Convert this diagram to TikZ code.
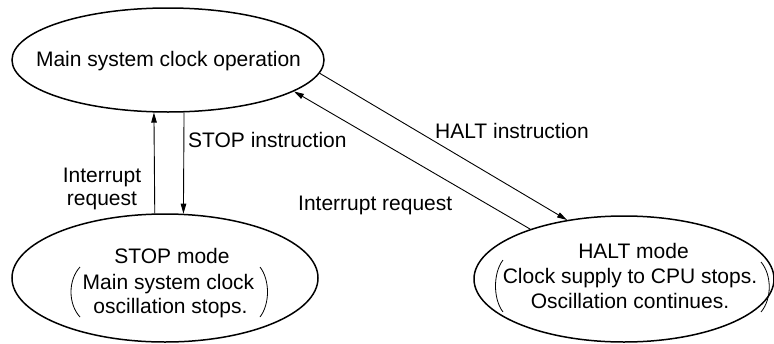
\documentclass[tikz,border=0pt]{standalone}
\usepackage{fontspec}
\setmainfont{Liberation Sans}
\usetikzlibrary{shapes.geometric,arrows.meta}
\begin{document}
\begin{tikzpicture}[x=1pt,y=-1pt,
  statebox/.style={draw,ellipse,line width=1.5pt,inner sep=0pt},
  txt/.style={font=\fontsize{21}{25}\selectfont,inner sep=0pt,anchor=base},
  lbl/.style={font=\fontsize{21}{25}\selectfont,inner sep=0pt,anchor=base west},
  arr/.style={line width=0.9pt,-{Triangle[length=10pt,width=5.5pt]}},
  paren/.style={line width=0.8pt}]
\useasboundingbox (0,0) rectangle (774,343);
% states
\node[statebox,minimum width=312pt,minimum height=104pt] (top) at (168,60) {};
\node[statebox,minimum width=306pt,minimum height=128pt] (stop) at (165,278) {};
\node[statebox,minimum width=300pt,minimum height=126pt] (halt) at (624,279) {};
% state texts
\node[txt] (topT) at (168.5,66) {Main system clock operation};
\node[txt] (stopA) at (172,263) {STOP mode};
\node[txt] (stopB) at (168.5,289) {Main system clock};
\node[txt] (stopC) at (170.5,313) {oscillation stops.};
\node[txt] (haltA) at (633.5,258) {HALT mode};
\node[txt] (haltB) at (630,283) {Clock supply to CPU stops.};
\node[txt] (haltC) at (630,308) {Oscillation continues.};
% parentheses
\draw[paren] (80,267) .. controls (68,280) and (68,304) .. (80,317);
\draw[paren] (260,267) .. controls (270,280) and (270,304) .. (260,317);
\draw[paren] (503,260) .. controls (493,273) and (493,299) .. (503,312);
\draw[paren] (761,262) .. controls (772,275) and (772,299) .. (761,312);
% connectors
\draw[arr] (stop.99.8) -- (top.-105.1);
\draw[arr] (top.-73.8) -- (stop.74.2);
\draw[arr] (top.-5.3) -- (halt.134.5);
\draw[arr] (halt.152.7) -- (top.-14.5);
% labels
\node[lbl] (lstop) at (188,147) {STOP instruction};
\node[txt] (lint1) at (102,182) {Interrupt};
\node[txt] (lint2) at (102,205) {request};
\node[lbl] (lhalt) at (435,138) {HALT instruction};
\node[lbl] (lint3) at (298,210) {Interrupt request};
\end{tikzpicture}
\end{document}
